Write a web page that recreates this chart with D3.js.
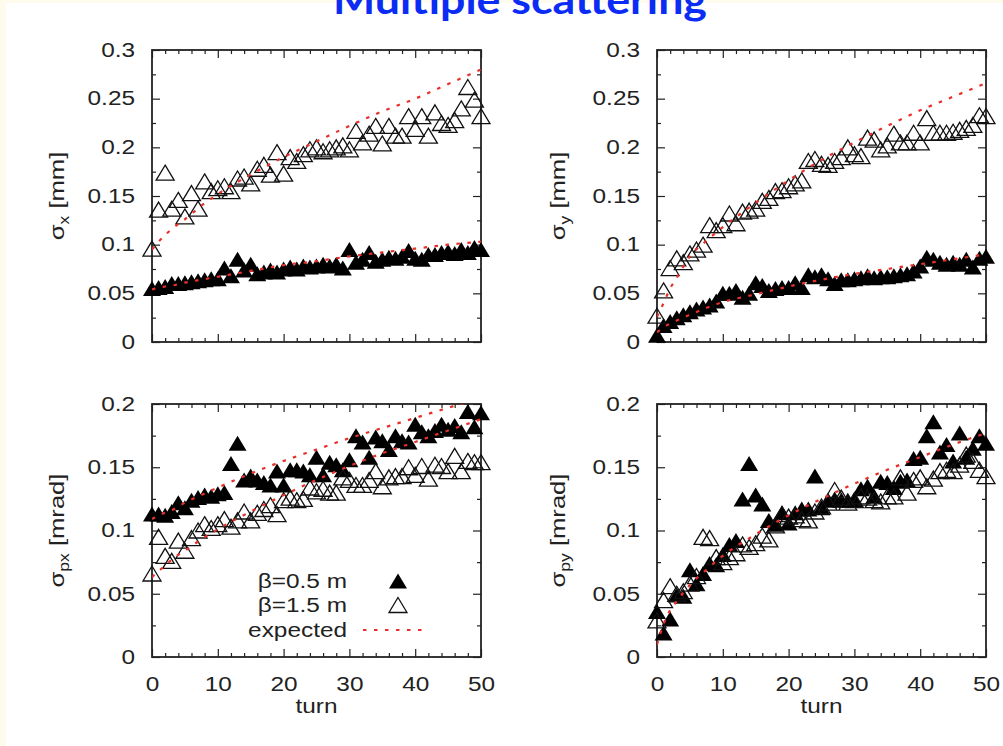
<!DOCTYPE html>
<html>
<head>
<meta charset="utf-8">
<script src="https://cdn.jsdelivr.net/npm/d3@7.9.0/dist/d3.min.js"></script>
<style>
  body { margin: 0; background: #fff; }
  svg { display: block; }
</style>
</head>
<body>
<svg id="chart" width="1003" height="746"></svg>
<script>
// turn number (x axis categories)
const turns = [0,1,2,3,4,5,6,7,8,9,10,11,12,13,14,15,16,17,18,19,20,21,22,23,24,25,
  26,27,28,29,30,31,32,33,34,35,36,37,38,39,40,41,42,43,44,45,46,47,48,49,50];

// sigma_x [mm]
const sigxB05 = [0.055,0.056,0.057,0.060,0.060,0.061,0.062,0.063,0.064,0.065,0.065,0.076,0.068,0.085,0.074,0.080,
  0.070,0.072,0.074,0.072,0.075,0.077,0.075,0.078,0.077,0.078,0.080,0.078,0.080,0.076,0.095,0.082,0.085,0.092,
  0.083,0.085,0.087,0.086,0.088,0.094,0.086,0.085,0.090,0.090,0.092,0.093,0.091,0.095,0.092,0.097,0.095];
const sigxB15 = [0.096,0.136,0.174,0.137,0.146,0.129,0.153,0.137,0.165,0.155,0.158,0.160,0.155,0.168,0.170,0.163,
  0.178,0.182,0.172,0.195,0.173,0.190,0.186,0.193,0.198,0.200,0.196,0.198,0.200,0.202,0.198,0.217,0.205,0.214,
  0.222,0.204,0.222,0.212,0.212,0.232,0.219,0.232,0.212,0.236,0.225,0.223,0.228,0.240,0.262,0.249,0.232];

// sigma_y [mm]
const sigyB05 = [0.007,0.017,0.021,0.025,0.028,0.031,0.034,0.036,0.038,0.042,0.050,0.050,0.053,0.046,0.050,0.061,
  0.058,0.053,0.055,0.056,0.056,0.061,0.056,0.069,0.067,0.069,0.065,0.060,0.064,0.064,0.065,0.066,0.068,0.066,
  0.067,0.067,0.068,0.069,0.070,0.073,0.078,0.087,0.085,0.082,0.080,0.082,0.080,0.085,0.077,0.086,0.088];
const sigyB15 = [0.027,0.053,0.076,0.086,0.082,0.091,0.095,0.100,0.120,0.115,0.120,0.132,0.122,0.134,0.135,0.137,
  0.145,0.148,0.155,0.156,0.160,0.163,0.166,0.186,0.188,0.183,0.182,0.186,0.190,0.200,0.193,0.191,0.210,0.208,
  0.198,0.202,0.214,0.205,0.205,0.215,0.205,0.230,0.215,0.215,0.215,0.216,0.218,0.220,0.223,0.233,0.232];

// sigma_px [mrad]
const sigpxB05 = [0.113,0.113,0.112,0.115,0.122,0.118,0.124,0.126,0.128,0.127,0.129,0.130,0.153,0.169,0.140,0.143,
  0.140,0.138,0.136,0.147,0.136,0.148,0.148,0.147,0.144,0.158,0.144,0.154,0.152,0.148,0.156,0.175,0.170,0.158,
  0.174,0.171,0.164,0.175,0.171,0.170,0.184,0.178,0.175,0.179,0.184,0.180,0.183,0.178,0.194,0.182,0.193];
const sigpxB15 = [0.066,0.095,0.080,0.076,0.092,0.084,0.094,0.100,0.105,0.102,0.105,0.109,0.103,0.108,0.115,0.108,
  0.114,0.117,0.120,0.113,0.124,0.126,0.124,0.125,0.134,0.131,0.133,0.130,0.130,0.142,0.140,0.136,0.136,0.140,
  0.147,0.135,0.142,0.143,0.143,0.150,0.144,0.151,0.141,0.152,0.151,0.147,0.159,0.147,0.155,0.154,0.154];

// sigma_py [mrad]
const sigpyB05 = [0.036,0.019,0.030,0.049,0.048,0.069,0.058,0.066,0.074,0.073,0.081,0.089,0.092,0.125,0.153,0.128,
  0.121,0.108,0.105,0.114,0.106,0.114,0.117,0.117,0.143,0.118,0.124,0.125,0.124,0.124,0.124,0.133,0.135,0.127,
  0.139,0.138,0.134,0.139,0.140,0.157,0.158,0.175,0.186,0.162,0.168,0.155,0.177,0.158,0.165,0.175,0.169];
const sigpyB15 = [0.029,0.045,0.056,0.050,0.052,0.058,0.064,0.095,0.094,0.079,0.075,0.079,0.082,0.089,0.087,0.090,
  0.096,0.093,0.104,0.113,0.111,0.112,0.109,0.108,0.115,0.119,0.122,0.132,0.126,0.122,0.124,0.127,0.126,0.124,
  0.123,0.127,0.127,0.142,0.130,0.140,0.142,0.135,0.141,0.147,0.148,0.147,0.152,0.160,0.155,0.148,0.143];

// expected curves, read at these turns
const expTurns   = [0, 1, 2, 3, 5, 7.5, 10, 15, 20, 25, 30, 35, 40, 45, 50];
const expSigx05  = [0.054,0.056,0.057,0.058,0.061,0.064,0.067,0.073,0.079,0.083,0.088,0.092,0.096,0.100,0.103];
const expSigx15  = [0.095,0.103,0.110,0.116,0.126,0.140,0.152,0.172,0.190,0.206,0.222,0.237,0.250,0.265,0.280];
const expSigy05  = [0.010,0.015,0.019,0.022,0.028,0.035,0.041,0.049,0.057,0.064,0.070,0.075,0.080,0.085,0.090];
const expSigy15  = [0.026,0.040,0.055,0.066,0.088,0.104,0.118,0.143,0.166,0.187,0.205,0.222,0.238,0.252,0.266];
const expSigpx05 = [0.109,0.112,0.114,0.116,0.122,0.128,0.134,0.145,0.155,0.164,0.173,0.181,0.189,0.197,0.205];
const expSigpx15 = [0.063,0.068,0.072,0.077,0.084,0.093,0.101,0.115,0.128,0.140,0.151,0.161,0.170,0.179,0.188];
const expSigpy   = [0.010,0.026,0.037,0.044,0.057,0.069,0.080,0.097,0.112,0.125,0.137,0.148,0.158,0.168,0.177];

const xMajor = [0, 10, 20, 30, 40, 50];
const xMinor = [2,4,6,8,12,14,16,18,22,24,26,28,32,34,36,38,42,44,46,48];
const yMajorTop = [0, 0.05, 0.1, 0.15, 0.2, 0.25, 0.3];
const yMinorTop = [0.025, 0.075, 0.125, 0.175, 0.225, 0.275];
const yMajorBot = [0, 0.05, 0.1, 0.15, 0.2];
const yMinorBot = [0.025, 0.075, 0.125, 0.175];

const legendLabels = ['β=0.5 m', 'β=1.5 m', 'expected'];

const SX = 1.25;          // wide gnuplot font
const FONT = '"Liberation Sans", Arial, sans-serif';
const INK = '#222';
const RED = '#e8302a';

const svg = d3.select('#chart');
svg.append('rect').attr('width', 1003).attr('height', 746).attr('fill', '#fffbec');
svg.append('rect').attr('x', 6).attr('y', 3).attr('width', 997).attr('height', 743).attr('fill', '#fff');

svg.append('text')
  .attr('x', 520).attr('y', 14)
  .attr('text-anchor', 'middle')
  .attr('font-family', 'Lato, "Open Sans", sans-serif')
  .attr('font-weight', 'bold')
  .attr('font-size', 40)
  .attr('fill', '#0b2cf5')
  .attr('textLength', 374).attr('lengthAdjust', 'spacingAndGlyphs')
  .text('Multiple scattering');

const panels = [
  { x0: 152, x1: 481, y0: 50, y1: 342, ymax: 0.3, major: yMajorTop, minor: yMinorTop,
    sub: 'x', unit: ' [mm]', labX: 64, b05: sigxB05, b15: sigxB15, exp: [expSigx05, expSigx15], xlab: false },
  { x0: 657, x1: 986, y0: 50, y1: 342, ymax: 0.3, major: yMajorTop, minor: yMinorTop,
    sub: 'y', unit: ' [mm]', labX: 565, b05: sigyB05, b15: sigyB15, exp: [expSigy05, expSigy15], xlab: false },
  { x0: 152, x1: 481, y0: 404, y1: 657, ymax: 0.2, major: yMajorBot, minor: yMinorBot,
    sub: 'px', unit: ' [mrad]', labX: 64, b05: sigpxB05, b15: sigpxB15, exp: [expSigpx05, expSigpx15], xlab: true, legend: true },
  { x0: 657, x1: 986, y0: 404, y1: 657, ymax: 0.2, major: yMajorBot, minor: yMinorBot,
    sub: 'py', unit: ' [mrad]', labX: 565, b05: sigpyB05, b15: sigpyB15, exp: [expSigpy], xlab: true }
];

const TW = 18, TH = 15;
const tri = `M0,${-TH / 2}L${TW / 2},${TH / 2}L${-TW / 2},${TH / 2}Z`;

function stretchLabels(axisG) {
  axisG.selectAll('.tick text').each(function () {
    const t = d3.select(this);
    const tx = +t.attr('x') || 0, ty = +t.attr('y') || 0;
    t.attr('x', 0).attr('y', 0).attr('transform', `translate(${tx},${ty}) scale(${SX},1)`);
  });
}

function styleAxis(axisG) {
  axisG.select('.domain').remove();
  axisG.selectAll('.tick line').attr('stroke', INK).attr('stroke-width', 1.2);
  axisG.attr('font-family', FONT).attr('font-size', 19.5);
  axisG.selectAll('.tick text').attr('fill', INK);
}

panels.forEach((p, i) => {
  const g = svg.append('g');
  const x = d3.scaleLinear().domain([0, 50]).range([p.x0, p.x1]);
  const y = d3.scaleLinear().domain([0, p.ymax]).range([p.y1, p.y0]);

  g.append('clipPath').attr('id', 'clip' + i)
    .append('rect').attr('x', p.x0).attr('y', p.y0)
    .attr('width', p.x1 - p.x0).attr('height', p.y1 - p.y0);

  // ticks on all four sides, pointing inward
  const sides = [
    [d3.axisBottom(x), `translate(0,${p.y1})`, xMajor, xMinor, p.xlab ? d3.format('d') : () => '', 20],
    [d3.axisTop(x), `translate(0,${p.y0})`, xMajor, xMinor, () => '', 0],
    [d3.axisLeft(y), `translate(${p.x0},0)`, p.major, p.minor, d => d3.format('~g')(d), 17],
    [d3.axisRight(y), `translate(${p.x1},0)`, p.major, p.minor, () => '', 0]
  ];
  sides.forEach(([ax, tr, maj, mnr, fmt, pad]) => {
    const a1 = g.append('g').attr('transform', tr)
      .call(ax.tickValues(maj).tickSize(-8).tickPadding(pad).tickFormat(fmt));
    styleAxis(a1);
    stretchLabels(a1);
    const a2 = g.append('g').attr('transform', tr)
      .call(ax.tickValues(mnr).tickSize(-4).tickFormat(() => ''));
    styleAxis(a2);
  });

  g.append('rect')
    .attr('x', p.x0).attr('y', p.y0)
    .attr('width', p.x1 - p.x0).attr('height', p.y1 - p.y0)
    .attr('fill', 'none').attr('stroke', INK).attr('stroke-width', 1.8);

  // y label
  const yl = g.append('text')
    .attr('transform', `translate(${p.labX},${(p.y0 + p.y1) / 2}) rotate(-90) scale(${SX},1)`)
    .attr('text-anchor', 'middle')
    .attr('font-family', FONT).attr('font-size', 20.5).attr('fill', INK);
  yl.append('tspan').text('σ');
  yl.append('tspan').attr('font-size', 14).attr('dy', 5).text(p.sub);
  yl.append('tspan').attr('dy', -5).text(p.unit);

  if (p.xlab) {
    g.append('text')
      .attr('transform', `translate(${(p.x0 + p.x1) / 2},713) scale(${SX},1)`)
      .attr('text-anchor', 'middle')
      .attr('font-family', FONT).attr('font-size', 19.5).attr('fill', INK)
      .text('turn');
  }

  // beta = 0.5 m, filled
  g.append('g').selectAll('path')
    .data(p.b05)
    .join('path')
    .attr('d', tri)
    .attr('transform', (d, j) => `translate(${x(turns[j])},${y(d)})`)
    .attr('fill', '#000');

  // beta = 1.5 m, open
  g.append('g').selectAll('path')
    .data(p.b15)
    .join('path')
    .attr('d', tri)
    .attr('transform', (d, j) => `translate(${x(turns[j])},${y(d)})`)
    .attr('fill', 'none').attr('stroke', '#111').attr('stroke-width', 1.3);

  // expected
  const line = d3.line()
    .x((d, j) => x(expTurns[j]))
    .y(d => y(d))
    .curve(d3.curveMonotoneX);
  p.exp.forEach(arr => {
    g.append('path')
      .attr('clip-path', `url(#clip${i})`)
      .attr('d', line(arr))
      .attr('fill', 'none').attr('stroke', RED)
      .attr('stroke-width', 2.2).attr('stroke-dasharray', '3.5 7.5');
  });

  if (p.legend) {
    const rows = [581, 605, 630];
    legendLabels.forEach((lab, k) => {
      g.append('text')
        .attr('transform', `translate(347,${rows[k] + 7}) scale(${SX},1)`)
        .attr('text-anchor', 'end')
        .attr('font-family', FONT).attr('font-size', 19.5).attr('fill', INK)
        .text(lab);
    });
    g.append('path').attr('d', tri).attr('transform', `translate(398,${rows[0]})`).attr('fill', '#000');
    g.append('path').attr('d', tri).attr('transform', `translate(398,${rows[1]})`)
      .attr('fill', 'none').attr('stroke', '#111').attr('stroke-width', 1.3);
    g.append('line').attr('x1', 363).attr('x2', 427).attr('y1', rows[2]).attr('y2', rows[2])
      .attr('stroke', RED).attr('stroke-width', 2.2).attr('stroke-dasharray', '3.5 7.5');
  }
});
</script>
</body>
</html>
